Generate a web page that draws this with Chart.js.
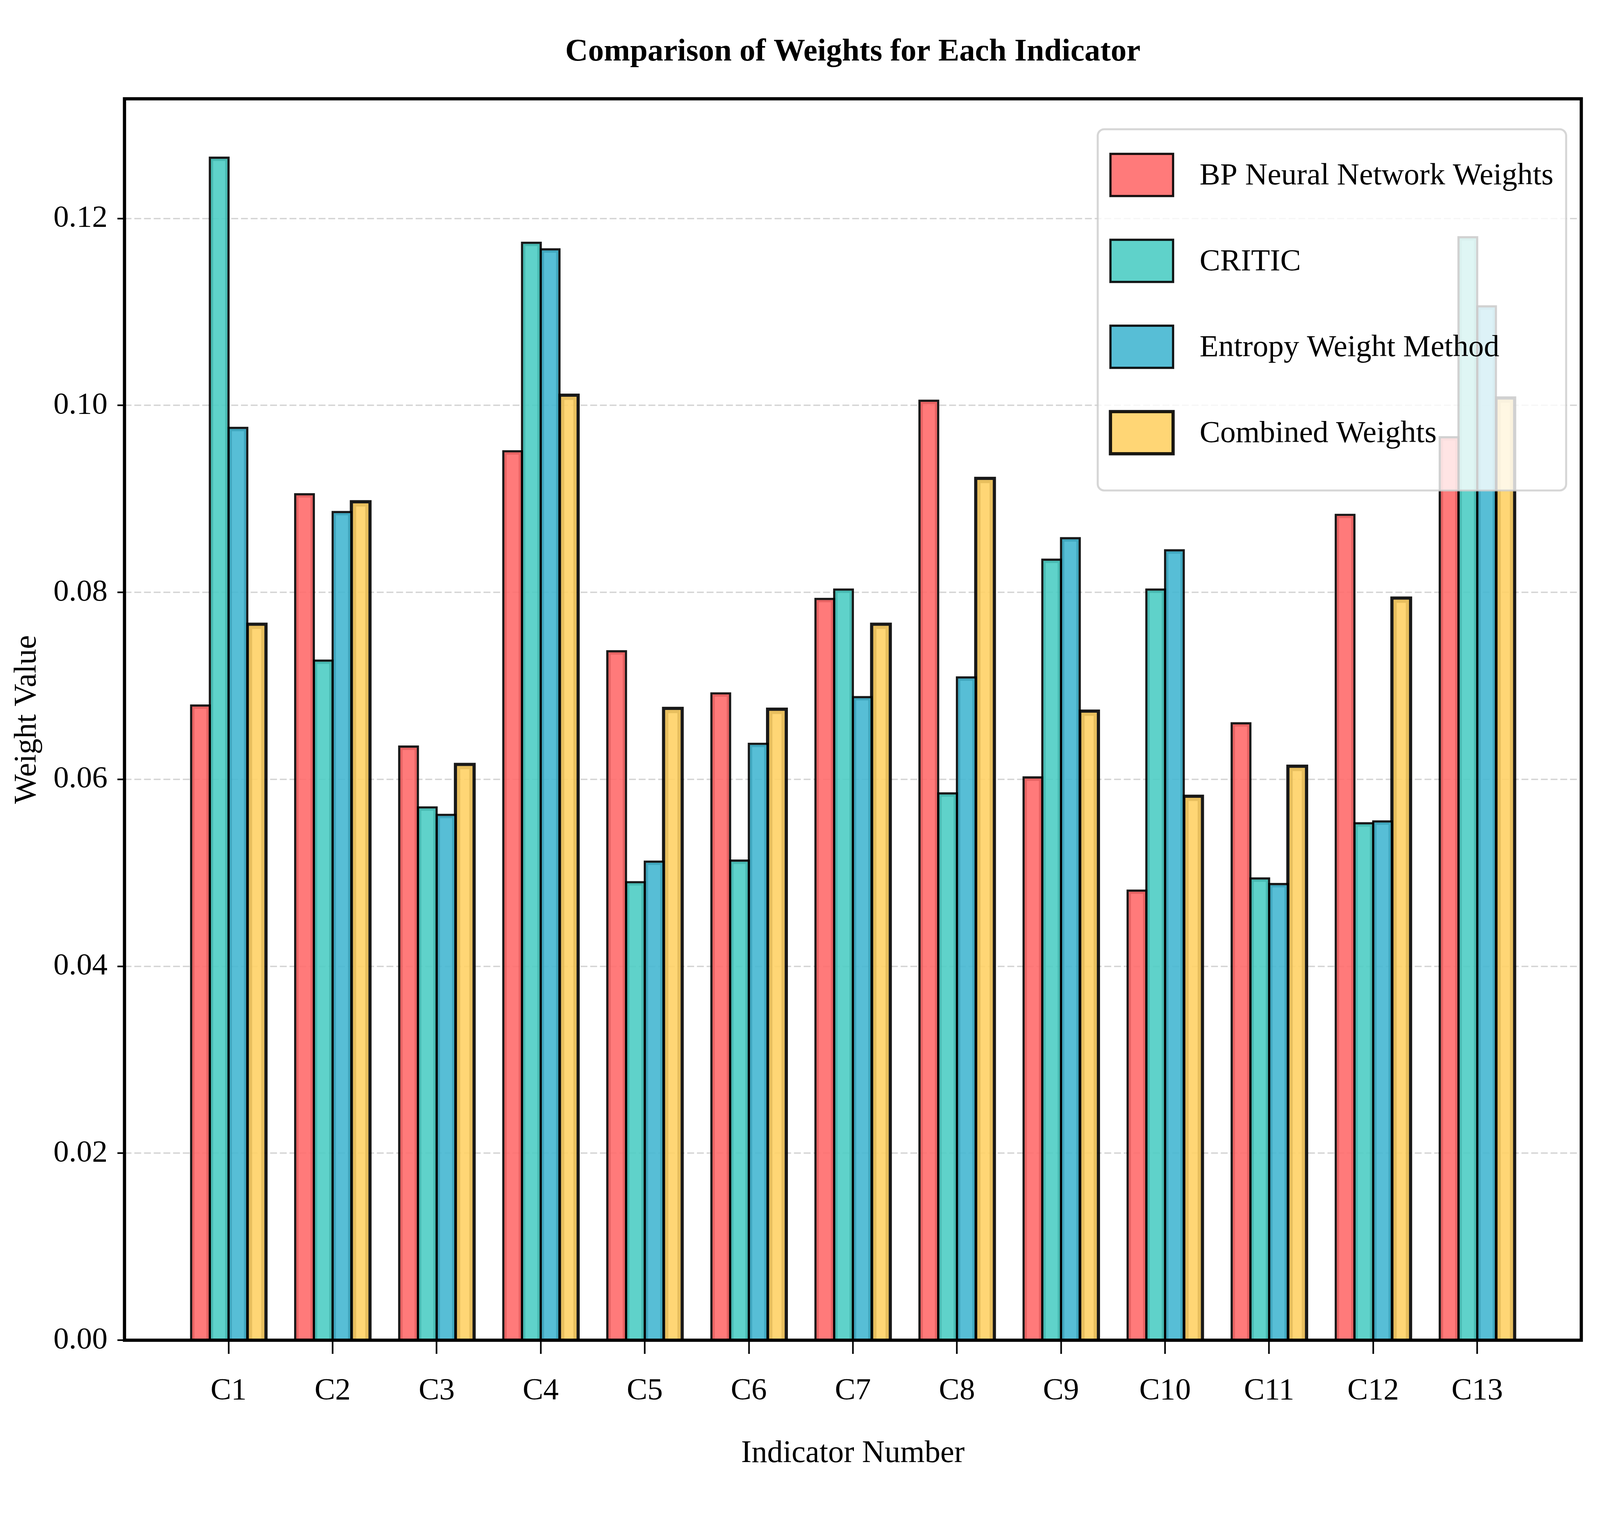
<!DOCTYPE html>
<html>
<head>
<meta charset="utf-8">
<title>Comparison of Weights for Each Indicator</title>
<script src="https://cdn.jsdelivr.net/npm/chart.js@4.4.1/dist/chart.umd.min.js"></script>
<style>
    html, body { margin: 0; padding: 0; background: #fff; overflow: hidden; }
    #wrap { position: relative; width: 100vw; height: 100vh; }
</style>
</head>
<body>
<div id="wrap"><canvas id="weightsChart"></canvas></div>
<script>
// Indicators and the weight from each method
const categories = ['C1', 'C2', 'C3', 'C4', 'C5', 'C6', 'C7', 'C8', 'C9', 'C10', 'C11', 'C12', 'C13'];
const bpWeights       = [0.0679, 0.0905, 0.0635, 0.0951, 0.0737, 0.0692, 0.0793, 0.1005, 0.0602, 0.0481, 0.0660, 0.0883, 0.0966];
const criticWeights   = [0.1265, 0.0727, 0.0570, 0.1174, 0.0490, 0.0513, 0.0803, 0.0585, 0.0835, 0.0803, 0.0494, 0.0553, 0.1180];
const entropyWeights  = [0.0976, 0.0886, 0.0562, 0.1167, 0.0512, 0.0638, 0.0688, 0.0709, 0.0858, 0.0845, 0.0488, 0.0555, 0.1106];
const combinedWeights = [0.0766, 0.0897, 0.0616, 0.1011, 0.0676, 0.0675, 0.0766, 0.0922, 0.0673, 0.0582, 0.0614, 0.0794, 0.1008];

// y axis: 0 .. 0.1328, ticks every 0.02
const yMax = 0.1328;
const yStep = 0.02;

const FONT = "'Liberation Serif', 'Times New Roman', serif";

// sizes below are measured on the 7917 x 3918 original, scaled to the real window
const sx = window.innerWidth / 7917;
const sy = window.innerHeight / 3918;
const s = Math.min(sx, sy);           // font and line scale
const fTitle = 156 * s, fTick = 153 * s, fLabel = 155 * s, fLegend = 153 * s;

// one empty slot on each side so the axis runs from -1 to 13 like the original
function padded(values) {
    return [null, ...values, null];
}

// Frame around the plot and the legend box on top of the bars
const frameAndLegend = {
    id: 'frameAndLegend',
    afterDraw(chart) {
        const { ctx, chartArea: a } = chart;
        ctx.save();

        ctx.strokeStyle = '#000';
        ctx.lineWidth = 16 * s;
        ctx.strokeRect(a.left, a.top, a.right - a.left, a.bottom - a.top);

        const sets = chart.data.datasets;
        ctx.font = `${fLegend}px ${FONT}`;
        const textW = Math.max(...sets.map(d => ctx.measureText(d.label).width));
        const w = (504 + 63) * sx + textW;
        const h = 925 * sy;
        const x = a.right - 75 * sx - w;
        const y = a.top + 78 * sy;

        ctx.beginPath();
        ctx.roundRect(x, y, w, h, 32 * s);
        ctx.fillStyle = 'rgba(255, 255, 255, 0.8)';
        ctx.fill();
        ctx.lineWidth = 10 * s;
        ctx.strokeStyle = 'rgba(204, 204, 204, 0.8)';
        ctx.stroke();

        sets.forEach((d, i) => {
            const cy = y + (117 + i * 220) * sy;
            const px = x + 63 * sx, pw = 310 * sx, ph = 108 * sy;
            ctx.fillStyle = d.backgroundColor;
            ctx.fillRect(px, cy - ph / 2, pw, ph);
            ctx.lineWidth = d.borderWidth;
            ctx.strokeStyle = d.borderColor;
            ctx.strokeRect(px, cy - ph / 2, pw, ph);

            ctx.fillStyle = '#000';
            ctx.textAlign = 'left';
            ctx.textBaseline = 'middle';
            ctx.fillText(d.label, x + 504 * sx, cy + 3 * sy);
        });
        ctx.restore();
    }
};

function makeDataset(label, values, color, edge) {
    return {
        label: label,
        data: padded(values),
        backgroundColor: color,
        borderColor: 'rgba(0, 0, 0, 0.9)',
        borderWidth: edge * s,
        inflateAmount: edge * s / 2,
        borderSkipped: 'start'
    };
}

// vertical placement of texts (centres measured on the original)
const titlePadTop = 134 * sy - fTitle * 0.6;
const titlePadBottom = 253 * sy - titlePadTop - fTitle * 1.2;
const xTitlePadBottom = 195 * sy - fLabel * 0.6;
const yTitlePadTop = 136 * sx - fLabel * 0.6;
const xTickPad = 123 * sy - 35 * sy - 0.5065 * fTick;

new Chart(document.getElementById('weightsChart'), {
    type: 'bar',
    data: {
        labels: ['', ...categories, ''],
        datasets: [
            makeDataset('BP Neural Network Weights', bpWeights, 'rgba(255, 107, 107, 0.9)', 11),
            makeDataset('CRITIC', criticWeights, 'rgba(78, 205, 196, 0.9)', 11),
            makeDataset('Entropy Weight Method', entropyWeights, 'rgba(69, 183, 209, 0.9)', 11),
            makeDataset('Combined Weights', combinedWeights, 'rgba(255, 209, 102, 0.9)', 16)
        ]
    },
    options: {
        responsive: true,
        maintainAspectRatio: false,
        animation: false,
        layout: { padding: { left: 0, right: 81 * sx, top: 0, bottom: 0 } },
        datasets: {
            bar: { categoryPercentage: 0.72, barPercentage: 1.0 }
        },
        plugins: {
            legend: { display: false },
            tooltip: { enabled: false },
            title: {
                display: true,
                text: 'Comparison of Weights for Each Indicator',
                fullSize: false,
                color: '#000',
                font: { family: FONT, size: fTitle, weight: 'bold' },
                padding: { top: titlePadTop, bottom: titlePadBottom }
            }
        },
        scales: {
            x: {
                offset: false,
                afterFit: sc => { sc.height = 486 * sy; },
                border: { display: false },
                grid: {
                    offset: false,
                    drawOnChartArea: false,
                    tickLength: 35 * sy,
                    tickWidth: 8 * s,
                    tickColor: c => (c.index === 0 || c.index === categories.length + 1) ? 'rgba(0,0,0,0)' : '#000'
                },
                ticks: {
                    color: '#000',
                    font: { family: FONT, size: fTick },
                    padding: xTickPad,
                    autoSkip: false,
                    maxRotation: 0
                },
                title: {
                    display: true,
                    text: 'Indicator Number',
                    color: '#000',
                    font: { family: FONT, size: fLabel },
                    padding: { top: 0, bottom: xTitlePadBottom }
                }
            },
            y: {
                min: 0,
                max: yMax,
                z: 1,
                afterFit: sc => { sc.width = 616 * sx; },
                border: { display: false, dash: [34 * sx, 14 * sx] },
                grid: {
                    color: 'rgba(128, 128, 128, 0.34)',
                    lineWidth: 7 * s,
                    tickColor: '#000',
                    tickWidth: 8 * s,
                    tickLength: 35 * sx,
                    tickBorderDash: []
                },
                ticks: {
                    stepSize: yStep,
                    includeBounds: false,
                    color: '#000',
                    font: { family: FONT, size: fTick },
                    padding: 49 * sx,
                    callback: v => v.toFixed(2)
                },
                title: {
                    display: true,
                    text: 'Weight Value',
                    color: '#000',
                    font: { family: FONT, size: fLabel },
                    padding: { top: yTitlePadTop, bottom: 0 }
                }
            }
        }
    },
    plugins: [frameAndLegend]
});
</script>
</body>
</html>
